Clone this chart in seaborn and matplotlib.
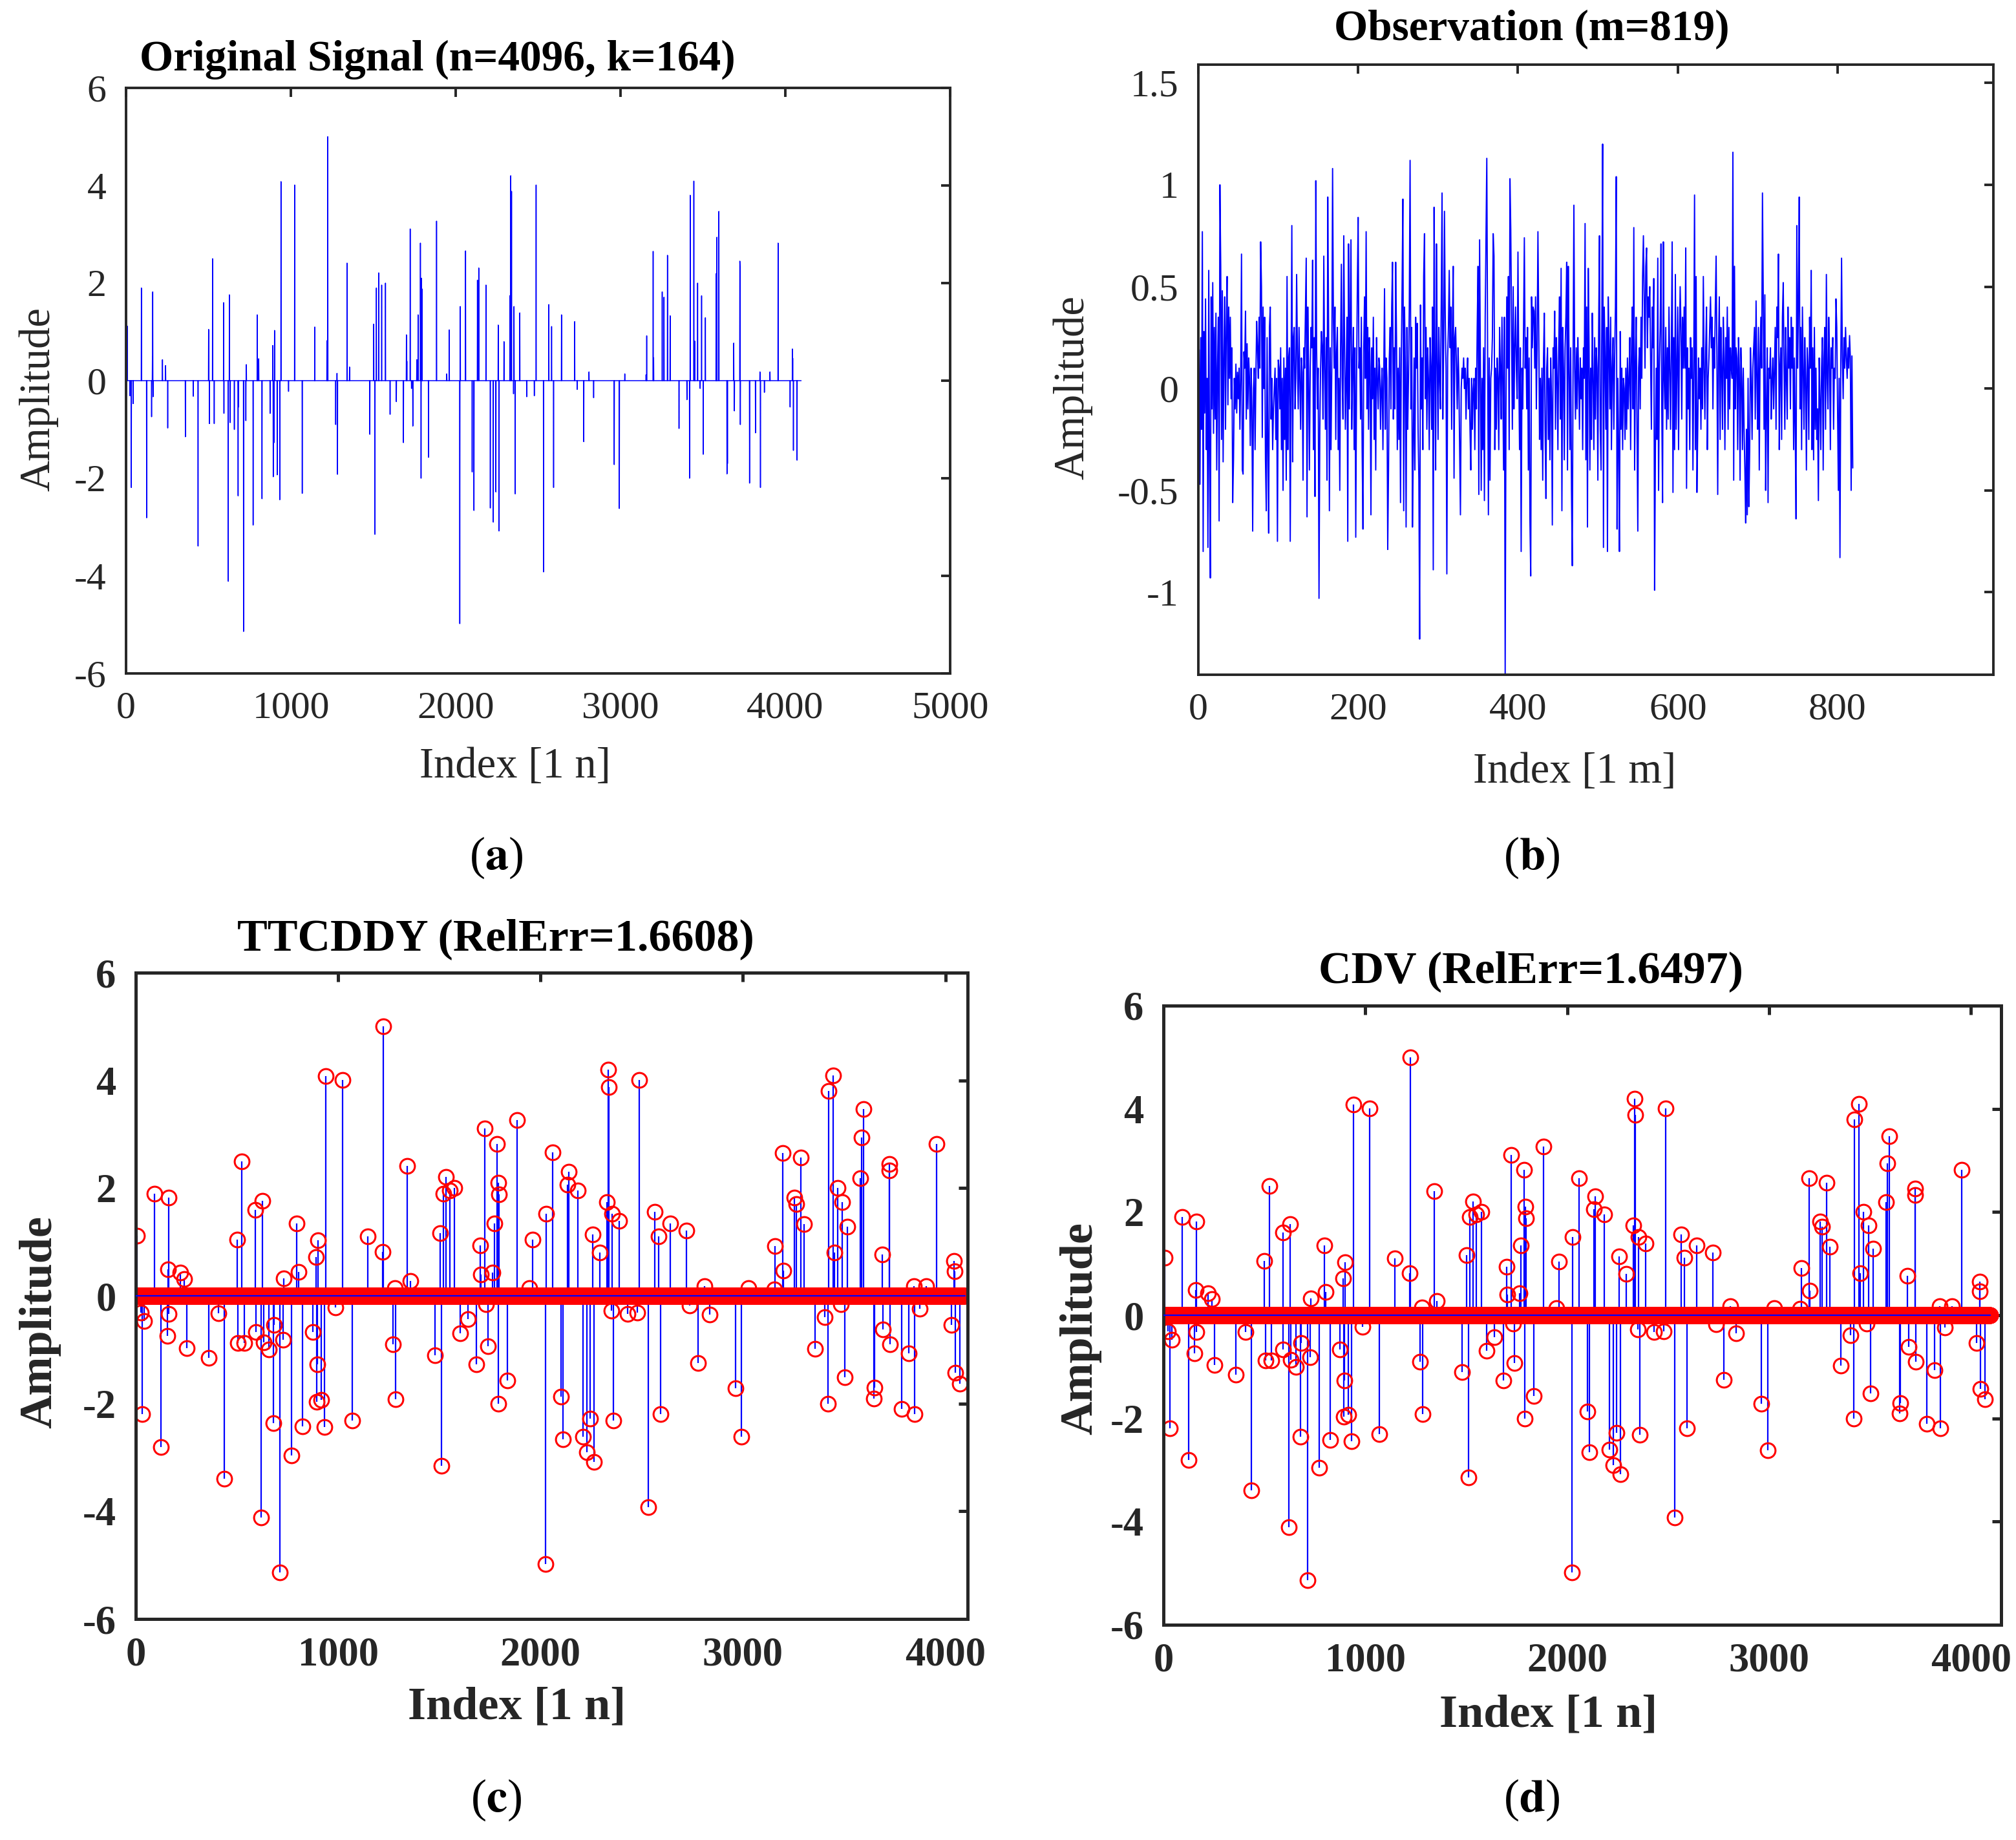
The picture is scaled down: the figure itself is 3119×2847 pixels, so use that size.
import numpy as np
import pandas as pd
import matplotlib
matplotlib.use("Agg")
import matplotlib.pyplot as plt
import seaborn as sns

# ---- data ----
n_len = 4096

# nonzero entries of the sparse signal (1-based index, amplitude)
spike_idx = [7, 24, 32, 43, 93, 125, 155, 160, 162, 164, 221, 240, 253, 360, 408, 437,
             501, 506, 525, 535, 592, 594, 620, 627, 632, 657, 680, 682, 713, 727, 730,
             771, 796, 805, 825, 874, 890, 893, 898, 901, 917, 933, 940, 986, 1023, 1069,
             1145, 1219, 1224, 1272, 1280, 1283, 1341, 1356, 1479, 1503, 1510, 1519, 1533,
             1551, 1574, 1602, 1640, 1683, 1701, 1704, 1724, 1732, 1740, 1764, 1772, 1786,
             1790, 1792, 1796, 1835, 1884, 1946, 1961, 2025, 2028, 2060, 2100, 2111, 2132,
             2140, 2184, 2210, 2228, 2244, 2258, 2263, 2293, 2329, 2334, 2339, 2351, 2354,
             2361, 2389, 2431, 2477, 2488, 2533, 2565, 2582, 2594, 2642, 2722, 2737, 2777,
             2809, 2837, 2962, 2993, 3026, 3155, 3159, 3198, 3201, 3253, 3264, 3285, 3301,
             3355, 3403, 3419, 3423, 3445, 3451, 3468, 3483, 3492, 3502, 3515, 3580, 3585,
             3597, 3646, 3649, 3687, 3691, 3724, 3725, 3727, 3783, 3819, 3846, 3849, 3873,
             3907, 3956, 4029, 4043, 4045, 4049, 4071]
spike_val = [1.12, -0.31, -2.19, -0.47, 1.90, -2.81, -0.74, 0.49, 1.82, -0.33, 0.43, 0.31,
             -0.97, -1.15, -0.32, -3.39, 1.05, -0.88, 2.50, -0.88, 1.60, -0.67, -4.11, 1.76,
             -0.86, -1.00, -2.36, -0.54, -5.14, -0.82, 0.33, -2.96, 1.35, 0.45, -2.42, -0.67,
             0.72, -1.97, -1.27, 1.03, -1.93, -2.44, 4.08, -0.22, 4.01, -2.31, 1.10, 0.82,
             5.00, -0.90, 0.15, -1.92, 2.41, 0.28, -1.10, 1.16, -3.15, 1.90, 2.21, 1.96,
             2.00, -0.69, -0.43, -1.27, 0.94, 0.40, 3.11, -0.16, -0.93, 0.43, 1.35, 2.82,
             -2.00, 2.10, 1.88, -1.57, 3.27, 0.14, 1.04, -4.98, 1.52, 2.66, -1.87, -2.66,
             2.06, 2.31, 1.96, -2.61, -2.90, -2.28, 1.14, -3.08, 0.80, 1.74, 4.20, 3.88,
             -0.27, 1.52, -2.32, 1.39, -0.33, -0.31, 4.01, -3.92, 1.56, 1.11, -2.19, 1.35,
             1.21, -0.18, -1.25, 0.18, -0.35, -1.72, -2.62, 0.14, 0.12, 0.92, 2.65, 0.47,
             1.82, 1.71, 2.57, 1.33, -0.98, -0.39, -2.00, 3.80, 4.09, 0.81, 2.00, -0.16,
             1.74, -1.51, 1.29, 2.19, 2.94, 3.47, -1.91, -1.70, 0.77, -0.62, 2.45, 2.33,
             -0.90, -2.10, -1.07, 0.18, -2.19, -0.24, 0.18, 2.82, -0.54, 0.65, 0.46, -1.43,
             -1.63]

# observation vector y (m = 819), estimated sample by sample
obs = [
    0.19, -0.47, 0.25, -0.20, 0.77, -0.80, 0.28, -0.12, 0.44, -0.30,
    0.05, -0.78, 0.58, -0.35, -0.93, 0.45, -0.10, 0.52, -0.22, 0.30,
    -0.15, 0.37, -0.40, 0.10, 0.35, -0.65, 1.00, 0.60, -0.25, 0.48,
    -0.36, 0.15, 0.45, -0.20, 0.30, 0.55, -0.08, 0.40, 0.05, 0.35,
    -0.05, 0.20, -0.56, -0.35, 0.05, -0.10, 0.12, -0.12, 0.08, -0.05,
    0.10, -0.20, 0.05, 0.66, -0.40, -0.42, 0.18, 0.10, 0.38, -0.15,
    0.22, -0.10, 0.15, 0.05, -0.28, 0.10, -0.10, -0.70, 0.00, 0.10,
    -0.30, 0.05, 0.33, 0.20, 0.05, 0.35, 0.10, 0.72, 0.50, -0.24,
    0.40, 0.00, 0.35, -0.35, -0.60, 0.25, -0.30, -0.71, 0.30, 0.40,
    -0.15, 0.05, -0.30, -0.10, 0.00, 0.10, -0.25, 0.05, -0.75, 0.14,
    0.10, -0.10, 0.20, -0.30, 0.05, -0.50, 0.15, -0.25, 0.10, -0.45,
    0.55, -0.30, 0.15, 0.20, -0.75, 0.05, 0.80, -0.36, 0.25, 0.30,
    -0.10, 0.05, 0.56, 0.15, -0.10, 0.30, 0.05, -0.20, 0.15, 0.08,
    -0.45, 0.20, 0.10, 0.38, 0.64, -0.63, 0.40, 0.05, -0.40, 0.10,
    0.30, 0.20, 0.63, -0.30, 0.25, -0.53, 1.02, 0.20, -0.10, 0.10,
    -1.03, -0.20, 0.10, 0.28, 0.20, -0.15, 0.65, 0.10, -0.20, 0.25,
    -0.45, 0.94, 0.30, -0.60, 0.20, -0.30, 0.10, 1.08, 0.35, 0.10,
    0.40, -0.25, 0.18, 0.30, -0.30, 0.05, -0.50, 0.20, 0.61, 0.05,
    -0.15, 0.75, 0.20, -0.20, 0.05, 0.35, -0.75, 0.71, -0.10, 0.30,
    0.73, -0.20, 0.10, 0.30, -0.30, 0.20, -0.73, 0.05, 0.50, 0.84,
    0.10, 0.20, -0.15, 0.35, -0.30, -0.69, 0.20, 0.45, 0.05, 0.77,
    -0.10, 0.30, -0.20, 0.25, 0.10, -0.62, 0.20, -0.05, 0.35, -0.25,
    0.10, -0.40, 0.25, 0.05, -0.10, 0.15, 0.10, -0.20, 0.00, 0.10,
    -0.30, 0.05, 0.49, -0.20, 0.15, 0.05, -0.79, -0.40, 0.15, 0.30,
    -0.10, 0.40, 0.62, -0.15, 0.20, -0.10, 0.62, 0.25, -0.30, 0.10,
    -0.25, 0.20, -0.56, 0.15, 0.50, 0.93, -0.60, 0.40, 0.10, -0.68,
    0.30, -0.20, 0.05, 0.40, 1.12, -0.10, 0.30, -0.68, -0.30, 0.15,
    -0.40, 0.35, 0.10, 0.32, -0.20, -0.45, -1.23, 0.41, -0.10, 0.15,
    -0.30, 0.55, 0.76, -0.05, 0.30, -0.20, 0.20, 0.05, -0.30, 0.25,
    0.10, -0.20, 0.40, -0.89, 0.89, 0.10, -0.40, 0.71, 0.15, -0.25,
    0.30, 0.05, -0.10, 0.45, 0.96, -0.15, 0.20, 0.87, 0.35, 0.10,
    -0.91, 0.15, 0.30, 0.58, 0.20, 0.40, -0.20, 0.30, 0.60, -0.44,
    0.25, 0.30, 0.10, -0.10, 0.20, 0.05, -0.30, -0.62, 0.00, 0.10,
    0.05, 0.15, 0.00, 0.10, -0.15, 0.05, 0.15, -0.10, 0.05, -0.20,
    -0.40, 0.05, -0.20, 0.00, 0.05, -0.30, 0.10, -0.10, 0.30, 0.60,
    -0.52, 0.73, 0.10, -0.50, 0.05, -0.30, 0.20, -0.55, 0.35, 0.75,
    1.13, 0.20, -0.62, 0.15, -0.45, 0.05, 0.10, 0.25, 0.76, 0.65,
    -0.30, 0.10, -0.20, 0.15, 0.05, -0.30, 0.30, 0.10, -0.15, 0.35,
    0.05, -0.40, 0.35, -1.40, -0.10, 0.45, 0.10, 0.55, -0.30, 1.03,
    0.78, 0.30, -0.20, 0.50, -0.10, 0.20, 0.40, 0.10, -0.05, 0.67,
    0.10, -0.30, 0.20, -0.80, 0.10, -0.10, 0.30, 0.74, 0.10, 0.25,
    -0.10, 0.30, -0.40, 0.15, -0.65, -0.92, 0.45, 0.20, 0.40, 0.38,
    0.10, 0.45, -0.10, 0.20, 0.77, 0.30, -0.25, 0.05, -0.30, 0.10,
    -0.45, 0.15, 0.37, -0.20, -0.54, 0.10, 0.20, -0.25, 0.05, -0.35,
    0.15, -0.05, -0.67, 0.20, 0.10, 0.38, -0.20, 0.25, 0.05, -0.30,
    0.20, 0.45, -0.15, 0.59, -0.60, 0.30, 0.10, -0.35, 0.20, 0.35,
    0.62, -0.40, 0.60, 0.10, -0.30, 0.20, -0.50, -0.87, 0.15, 0.90,
    0.10, -0.15, 0.20, -0.10, 0.25, 0.05, -0.20, 0.15, -0.05, 0.10,
    -0.30, 0.20, 0.05, 0.81, -0.35, 0.40, -0.68, 0.59, 0.20, -0.40,
    0.10, -0.25, 0.37, 0.05, -0.30, 0.25, -0.15, 0.20, 0.10, -0.45,
    0.30, 0.75, -0.20, -0.40, 0.35, 1.20, -0.78, 0.40, 0.15, -0.20,
    0.30, -0.80, 0.45, 0.20, -0.10, 0.35, -0.30, 0.10, 0.25, -0.20,
    0.15, 0.40, 1.04, -0.69, 0.05, -0.30, -0.80, 0.28, -0.20, 0.10,
    -0.30, 0.05, 0.00, -0.25, 0.10, -0.20, 0.15, -0.10, 0.05, 0.25,
    -0.30, 0.15, 0.40, -0.10, 0.79, -0.40, 0.10, 0.35, -0.20, -0.70,
    0.10, 0.20, -0.10, 0.35, 0.05, 0.55, 0.75, 0.45, 0.10, 0.60,
    0.69, 0.20, 0.45, 0.35, 0.50, 0.15, -0.20, 0.40, 0.20, 0.54,
    -0.99, -0.30, 0.10, -0.25, 0.64, -0.50, 0.10, 0.30, 0.71, -0.10,
    -0.56, 0.72, 0.05, -0.10, 0.30, -0.20, 0.20, -0.15, 0.40, 0.10,
    -0.20, 0.20, 0.72, -0.51, 0.25, -0.30, 0.56, -0.20, 0.10, 0.40,
    -0.30, 0.20, 0.50, 0.30, -0.15, 0.35, 0.10, 0.40, 0.10, 0.69,
    -0.49, 0.20, -0.10, 0.10, -0.30, 0.25, 0.05, 0.20, -0.40, 0.10,
    0.95, -0.30, 0.55, -0.51, -0.20, 0.15, -0.05, 0.10, -0.20, 0.20,
    -0.10, 0.55, 0.10, -0.15, 0.20, 0.40, -0.30, 0.05, 0.15, 0.30,
    0.45, 0.20, 0.35, -0.10, 0.25, 0.10, 0.40, 0.65, 0.15, -0.52,
    0.20, 0.45, -0.25, 0.30, 0.10, -0.20, 0.35, 0.15, -0.30, 0.25,
    0.05, 0.40, -0.20, 0.30, -0.10, 0.20, 0.10, 0.05, 1.16, -0.45,
    0.60, -0.10, 0.20, 0.15, -0.30, 0.25, 0.10, -0.45, 0.20, 0.05,
    -0.30, 0.10, -0.20, -0.40, -0.66, -0.20, -0.62, 0.05, -0.58, -0.30,
    0.20, 0.05, -0.25, 0.10, 0.20, 0.30, -0.15, 0.43, 0.05, -0.20,
    0.30, -0.40, 0.15, 0.35, 0.10, 0.96, 0.45, -0.20, 0.46, -0.50,
    -0.10, 0.20, -0.56, 0.10, 0.05, 0.20, -0.15, 0.05, 0.15, -0.10,
    0.10, 0.30, -0.20, 0.40, 0.25, 0.66, -0.30, 0.10, 0.20, -0.25,
    0.35, 0.52, 0.10, -0.20, 0.30, 0.05, -0.15, 0.40, 0.10, 0.25,
    -0.10, 0.35, 0.10, 0.30, -0.30, 0.15, -0.20, -0.64, 0.80, 0.10,
    0.40, 0.94, -0.10, 0.30, -0.30, 0.40, 0.10, -0.20, 0.25, 0.05,
    -0.40, 0.20, 0.10, -0.25, 0.35, 0.10, 0.58, -0.30, 0.20, -0.35,
    0.30, -0.20, 0.10, -0.25, -0.10, -0.55, 0.15, -0.05, -0.30, 0.10,
    0.25, -0.40, 0.15, 0.30, -0.20, 0.56, 0.05, -0.10, 0.35, 0.15,
    -0.30, 0.20, 0.10, 0.25, -0.20, 0.10, 0.05, 0.44, 0.30, -0.10,
    -0.50, 0.05, -0.83, 0.10, 0.64, 0.15, -0.05, 0.25, 0.10, 0.30,
    0.15, 0.05, 0.20, 0.10, 0.26, 0.15, -0.50, 0.16, -0.39,
]

titles = ["Original Signal (n=4096, k=164)", "Observation (m=819)",
          "TTCDDY (RelErr=1.6608)", "CDV (RelErr=1.6497)"]
xlabels = ["Index [1 n]", "Index [1 m]", "Index [1 n]", "Index [1 n]"]
captions = ["a", "b", "c", "d"]

# full signal from its nonzero entries
signal = np.zeros(n_len)
signal[np.array(spike_idx) - 1] = spike_val
df_sig = pd.DataFrame({"idx": np.arange(1, n_len + 1), "amp": signal})
df_obs = pd.DataFrame({"idx": np.arange(1, len(obs) + 1), "amp": obs})

sns.set_theme(style="white")
serif = ['Liberation Serif', 'DejaVu Serif']
plt.rcParams['font.family'] = serif
plt.rcParams['axes.unicode_minus'] = False
plt.rcParams['mathtext.fontset'] = 'stix'

W, H = 3119, 2847
fig = plt.figure(figsize=(W / 200, H / 200), dpi=200)
dark = "#262626"


def px_axes(l, r, t, b):
    return fig.add_axes([l / W, 1 - b / H, (r - l) / W, (b - t) / H])


def style_axes(ax, lw, bold, xticks, yticks, ylabels=None):
    for s in ax.spines.values():
        s.set_visible(True)
        s.set_color(dark)
        s.set_linewidth(lw)
    weight = "bold" if bold else "normal"
    size = 22.5 if bold else 21.5
    ax.set_xticks(xticks, [str(t) for t in xticks], fontsize=size,
                  fontweight=weight, family=serif, color=dark)
    ax.set_yticks(yticks, ylabels if ylabels else [str(t) for t in yticks],
                  fontsize=size, fontweight=weight, family=serif, color=dark)
    ax.tick_params(direction="in", length=5, width=lw, colors=dark,
                   top=True, right=True)
    ax.tick_params(axis="x", pad=10)
    ax.tick_params(axis="y", pad=11)
    ax.set_xlabel("")
    ax.set_ylabel("")


# (a) original signal
ax_a = px_axes(195, 1470, 136, 1042)
sns.lineplot(data=df_sig, x="idx", y="amp", ax=ax_a, color="blue", lw=0.55,
             estimator=None, sort=False)
ax_a.set_xlim(0, 5000)
ax_a.set_ylim(-6, 6)
style_axes(ax_a, 1.4, False, list(range(0, 5001, 1000)), list(range(-6, 7, 2)))

# (b) observation
ax_b = px_axes(1854, 3084, 100, 1044)
sns.lineplot(data=df_obs, x="idx", y="amp", ax=ax_b, color="blue", lw=0.7,
             estimator=None, sort=False)
ax_b.set_xlim(0, 995)
ax_b.set_ylim(-1.405, 1.59)
style_axes(ax_b, 1.4, False, list(range(0, 801, 200)),
           [-1, -0.5, 0, 0.5, 1, 1.5], ["-1", "-0.5", "0", "0.5", "1", "1.5"])


# (c), (d) recovered signals as stem plots
def stem_panel(ax, xmax):
    ml, sl, bl = ax.stem(df_sig["idx"], df_sig["amp"])
    ml.set_marker("o")
    ml.set_linestyle("none")
    ml.set_markerfacecolor("none")
    ml.set_markeredgecolor("red")
    ml.set_markersize(8.2)
    ml.set_markeredgewidth(1.1)
    sl.set_color("blue")
    sl.set_linewidth(0.8)
    bl.set_color("blue")
    bl.set_linewidth(0.8)
    bl.set_zorder(5)
    ax.set_xlim(0, xmax)
    ax.set_ylim(-6, 6)
    style_axes(ax, 1.8, True, list(range(0, 4001, 1000)), list(range(-6, 7, 2)))


ax_c = px_axes(210, 1497, 1505, 2505)
stem_panel(ax_c, 4110)
ax_d = px_axes(1800, 3096, 1556, 2514)
stem_panel(ax_d, 4150)

# titles, axis labels and captions
title_pos = [(677, 109), (2370, 62), (767, 1470), (2368, 1520)]
xlab_pos = [(797, 1187), (2436, 1194), (800, 2642), (2396, 2654)]
ylab_pos = [(60, 618), (1660, 600), (62, 2046), (1672, 2056)]
cap_pos = [(768, 1327), (2370, 1327), (768, 2785), (2370, 2785)]

for i in range(4):
    bold = i >= 2
    fig.text(title_pos[i][0] / W, 1 - title_pos[i][1] / H, titles[i],
             ha="center", va="baseline", fontsize=25.2 if bold else 24.2,
             fontweight="bold", color="black")
    fig.text(xlab_pos[i][0] / W, 1 - xlab_pos[i][1] / H, xlabels[i],
             ha="center", va="center", fontsize=26 if bold else 24,
             fontweight="bold" if bold else "normal", color=dark)
    fig.text(ylab_pos[i][0] / W, 1 - ylab_pos[i][1] / H, "Amplitude", rotation=90,
             ha="center", va="center", fontsize=26 if bold else 24,
             fontweight="bold" if bold else "normal", color=dark)
    fig.text(cap_pos[i][0] / W, 1 - cap_pos[i][1] / H,
             "($\\mathbf{" + captions[i] + "}$)",
             ha="center", va="center", fontsize=26, color="black")

fig.savefig("out.png", dpi=200)
